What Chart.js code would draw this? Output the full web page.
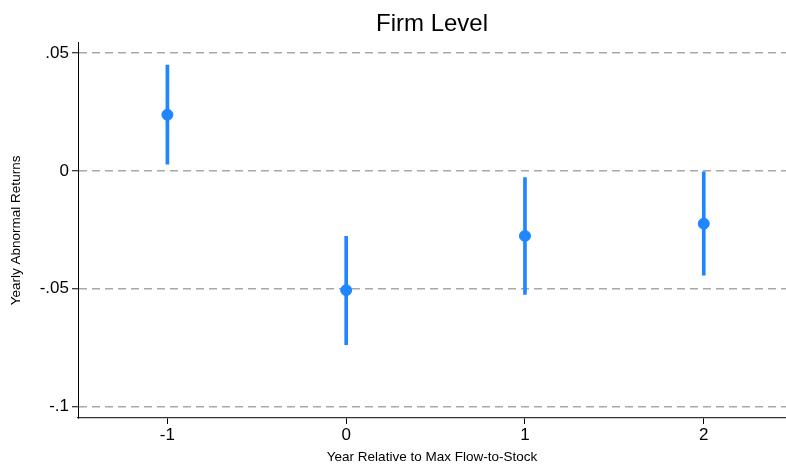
<!DOCTYPE html>
<html>
<head>
<meta charset="utf-8">
<script src="https://cdn.jsdelivr.net/npm/chart.js@4/dist/chart.umd.min.js"></script>
<style>
  html, body { margin: 0; padding: 0; background: #fff; }
  #wrap { width: 786px; height: 466px; }
</style>
</head>
<body>
<div id="wrap"><canvas id="firmChart"></canvas></div>
<script>
// years relative to max flow-to-stock
const years = [-1, 0, 1, 2];
// point estimates and confidence interval ends
const estimates = [0.0238, -0.0506, -0.0276, -0.0224];
const ciLow = [0.0028, -0.0737, -0.0524, -0.0442];
const ciHigh = [0.0449, -0.0278, -0.0028, -0.0004];

const yTickValues = [-0.1, -0.05, 0, 0.05];
const yTickLabels = ['-.1', '-.05', '0', '.05'];
const xTickValues = [-1, 0, 1, 2];

const blue = '#1f86ff';
const font = 'Liberation Sans, Arial, sans-serif';

const ctx = document.getElementById('firmChart').getContext('2d');

new Chart(ctx, {
    data: {
        datasets: [{
            type: 'bar',
            data: years.map((x, i) => ({ x: x, y: [ciLow[i], ciHigh[i]] })),
            backgroundColor: blue,
            barThickness: 3,
            borderWidth: 0,
            order: 2
        }, {
            type: 'scatter',
            data: years.map((x, i) => ({ x: x, y: estimates[i] })),
            backgroundColor: blue,
            borderColor: blue,
            pointRadius: 5.5,
            pointHoverRadius: 5.5,
            order: 1
        }]
    },
    options: {
        responsive: true,
        maintainAspectRatio: false,
        animation: false,
        layout: { autoPadding: false, padding: 0 },
        plugins: {
            legend: { display: false },
            tooltip: { enabled: false },
            title: {
                display: true,
                fullSize: false,
                text: 'Firm Level',
                color: '#000',
                font: { family: font, size: 24, weight: 'normal' },
                padding: { top: 10, bottom: 4 }
            }
        },
        scales: {
            x: {
                type: 'linear',
                offset: false,
                min: -1.5,
                max: 2.46,
                afterBuildTicks: scale => {
                    scale.ticks = xTickValues.map(v => ({ value: v }));
                },
                afterFit: scale => {
                    scale.height = 48;
                    scale.paddingLeft = 0;
                    scale.paddingRight = 0;
                },
                grid: {
                    offset: false,
                    drawOnChartArea: false,
                    drawTicks: true,
                    tickLength: 6,
                    tickColor: '#000'
                },
                border: { display: true, color: '#333', width: 1.3 },
                ticks: {
                    color: '#000',
                    font: { family: font, size: 17 },
                    padding: 1,
                    maxRotation: 0,
                    callback: v => String(v)
                },
                title: {
                    display: true,
                    text: 'Year Relative to Max Flow-to-Stock',
                    color: '#000',
                    font: { family: font, size: 13.5 },
                    padding: { top: 0, bottom: 1 }
                }
            },
            y: {
                type: 'linear',
                min: -0.1048,
                max: 0.0543,
                afterBuildTicks: scale => {
                    scale.ticks = yTickValues.map(v => ({ value: v }));
                },
                afterFit: scale => {
                    scale.width = 78;
                    scale.paddingTop = 0;
                    scale.paddingBottom = 0;
                },
                grid: {
                    color: '#a8a8a8',
                    lineWidth: 1.5,
                    drawTicks: true,
                    tickLength: 6,
                    tickColor: '#000',
                    tickBorderDash: [],
                    tickWidth: 1
                },
                border: { display: true, color: '#000', width: 1, dash: [8, 5] },
                ticks: {
                    color: '#000',
                    font: { family: font, size: 17 },
                    padding: 3,
                    callback: v => {
                        const i = yTickValues.findIndex(t => Math.abs(t - v) < 1e-9);
                        return i >= 0 ? yTickLabels[i] : '';
                    }
                },
                title: {
                    display: true,
                    text: 'Yearly Abnormal Returns',
                    color: '#000',
                    font: { family: font, size: 13.5 },
                    padding: { top: 8, bottom: 0 }
                }
            }
        }
    }
});
</script>
</body>
</html>
